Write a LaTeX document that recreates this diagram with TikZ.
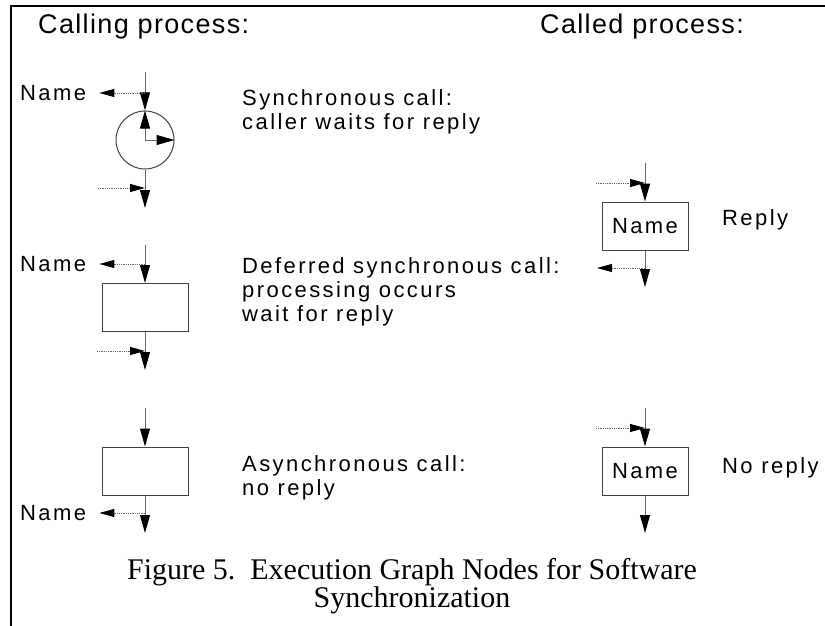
\documentclass[tikz,border=0pt]{standalone}
\usepackage{fontspec}
\setmainfont{Liberation Serif}
\newfontfamily\lblfont[LetterSpace=11]{Liberation Sans}
\newfontfamily\headfont[LetterSpace=5]{Liberation Sans}
\usetikzlibrary{arrows.meta}
\begin{document}
\begin{tikzpicture}[x=1pt,y=-1pt,
  flow/.style={draw=black!60,line width=1pt,-{Triangle[length=18pt,width=10pt,black]}},
  sig/.style={draw=black!60,line width=0.8pt,densely dotted,-{Triangle[length=15pt,width=8pt,black]}},
  box/.style={draw=black!75,line width=1pt,minimum width=86pt,minimum height=48pt,inner sep=0pt,font=\lblfont\fontsize{22}{24}\selectfont},
  lbl/.style={inner sep=0pt,anchor=west,align=left,font=\lblfont\fontsize{22}{24}\selectfont},
  head/.style={inner sep=0pt,anchor=west,font=\headfont\fontsize{27}{30}\selectfont}]
\useasboundingbox (0,0) rectangle (825,626);
\draw[line width=2pt] (11,626) -- (11,6) -- (825,6);
\node[head] (hcall) at (38,27) {Calling process:};
\node[head] (hcalled) at (540,27) {Called process:};
% synchronous
\node[circle,draw=black!75,line width=1pt,minimum size=58pt,inner sep=0pt] (c1) at (145,140) {};
\coordinate (c1in) at (145,72);
\coordinate (c1out) at (145,208);
\coordinate (c1n) at (145,93);
\coordinate (c1r) at (98,188);
\coordinate (c1rt) at (145,188);
\draw[flow] (c1in) -- (c1.north);
\draw[flow] (c1.center) -- (c1.north);
\draw[flow] (c1.center) -- (c1.east);
\draw[flow] (c1.south) -- (c1out);
\node[lbl] (n1) at (20,93) {Name};
\draw[sig] (c1n) -- ([xshift=13pt]n1.east);
\draw[sig] (c1r) -- (c1rt);
\node[lbl] (t1) at (242,112) {Synchronous call:\\caller waits for reply};
% deferred
\node[box] (b2) at (145,307.5) {};
\coordinate (b2in) at (145,245);
\coordinate (b2out) at (145,370);
\coordinate (b2n) at (145,264);
\coordinate (b2r) at (97,351);
\coordinate (b2rt) at (145,351);
\draw[flow] (b2in) -- (b2.north);
\draw[flow] (b2.south) -- (b2out);
\node[lbl] (n2) at (20,264) {Name};
\draw[sig] (b2n) -- ([xshift=13pt]n2.east);
\draw[sig] (b2r) -- (b2rt);
\node[lbl] (t2) at (242,292) {Deferred synchronous call:\\processing occurs\\wait for reply};
% asynchronous
\node[box] (b3) at (145,471) {};
\coordinate (b3in) at (145,408);
\coordinate (b3out) at (145,533);
\coordinate (b3n) at (145,513);
\draw[flow] (b3in) -- (b3.north);
\draw[flow] (b3.south) -- (b3out);
\node[lbl] (n3) at (20,513) {Name};
\draw[sig] (b3n) -- ([xshift=13pt]n3.east);
\node[lbl] (t3) at (242,478) {Asynchronous call:\\no reply};
% reply
\node[box] (b4) at (645,226) {Name};
\coordinate (b4in) at (645,163);
\coordinate (b4out) at (645,287);
\coordinate (b4l) at (596,183);
\coordinate (b4lt) at (645,183);
\coordinate (b4r) at (645,268);
\coordinate (b4rt) at (597,268);
\draw[flow] (b4in) -- (b4.north);
\draw[flow] (b4.south) -- (b4out);
\draw[sig] (b4l) -- (b4lt);
\draw[sig] (b4r) -- (b4rt);
\node[lbl] (t4) at (722,220) {Reply};
% no reply
\node[box] (b5) at (645,471) {Name};
\coordinate (b5in) at (645,408);
\coordinate (b5out) at (645,533);
\coordinate (b5l) at (596,428);
\coordinate (b5lt) at (645,428);
\draw[flow] (b5in) -- (b5.north);
\draw[flow] (b5.south) -- (b5out);
\draw[sig] (b5l) -- (b5lt);
\node[lbl] (t5) at (722,468) {No reply};
% caption
\node[inner sep=0pt,align=center,font=\fontsize{30}{28}\selectfont] (cap) at (412,586) {Figure 5.\ \ Execution Graph Nodes for Software\\Synchronization};
\end{tikzpicture}
\end{document}
